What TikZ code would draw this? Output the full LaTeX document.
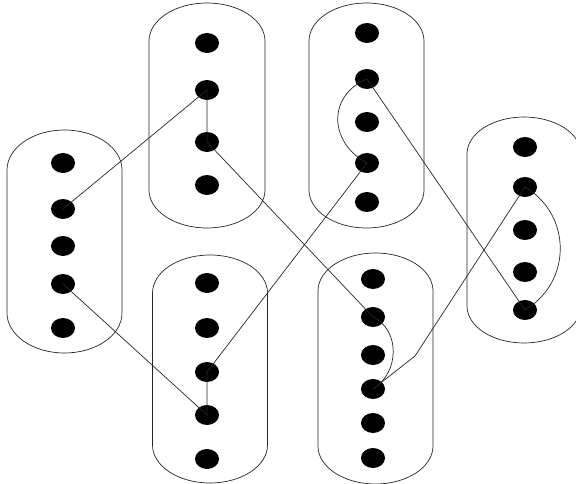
\documentclass[tikz,border=0pt]{standalone}
\usetikzlibrary{shapes.geometric}
\tikzset{
  dot/.style={ellipse, fill=black, draw=none, minimum width=24pt, minimum height=20pt, inner sep=0pt},
  link/.style={line width=0.7pt, draw=black!85},
  holder/.style={line width=0.7pt, draw=black!85}
}
% \holderbox{cx}{top}{bottom}{halfwidth}{cap}
\newcommand{\holderbox}[5]{%
  \draw[holder] ({#1-#4},{#2+#5})
    arc[start angle=180, end angle=360, x radius=#4, y radius=#5]
    -- ({#1+#4},{#3-#5})
    arc[start angle=0, end angle=180, x radius=#4, y radius=#5]
    -- cycle;}
\begin{document}
\begin{tikzpicture}[x=1pt,y=-1pt]
\useasboundingbox (0,0) rectangle (576,484);
\clip (0,0) rectangle (576,484);
% containers
\holderbox{64.5}{130}{353}{57.5}{40}
\holderbox{207}{3}{228}{58}{38}
\holderbox{366.5}{3}{228}{57.5}{38}
\holderbox{524}{117}{343}{57}{37}
\holderbox{210}{255}{483}{57.5}{38}
\holderbox{375.5}{253}{484}{57.5}{38}
% dots
\node[dot] (a1) at (63,163) {};
\node[dot] (a2) at (63,209) {};
\node[dot] (a3) at (63,246) {};
\node[dot] (a4) at (63,284) {};
\node[dot] (a5) at (63,328) {};
\node[dot] (b1) at (207,43) {};
\node[dot] (b2) at (207,90) {};
\node[dot] (b3) at (207,142) {};
\node[dot] (b4) at (207,185) {};
\node[dot] (c1) at (367,33) {};
\node[dot] (c2) at (367,79) {};
\node[dot] (c3) at (367,122) {};
\node[dot] (c4) at (367,163) {};
\node[dot] (c5) at (367,202) {};
\node[dot] (d1) at (525,147) {};
\node[dot] (d2) at (525,187) {};
\node[dot] (d3) at (525,230) {};
\node[dot] (d4) at (525,272) {};
\node[dot] (d5) at (525,310) {};
\node[dot] (e1) at (207,283) {};
\node[dot] (e2) at (207,328) {};
\node[dot] (e3) at (207,372) {};
\node[dot] (e4) at (207,415) {};
\node[dot] (e5) at (207,459) {};
\node[dot] (f1) at (373,279) {};
\node[dot] (f2) at (373,317) {};
\node[dot] (f3) at (373,355) {};
\node[dot] (f4) at (373,389) {};
\node[dot] (f5) at (373,423) {};
\node[dot] (f6) at (373,458) {};
\coordinate (k1) at (415,356);
% connectors
\draw[link] (a2.center) -- (b2.center) -- (b3.center) -- (f2.center);
\draw[link] (f2.center) .. controls (400,330) and (400,372) .. (f4.center);
\draw[link] (f4.center) -- (k1) -- (d2.center);
\draw[link] (d2.center) .. controls (572,215) and (572,282) .. (d5.center);
\draw[link] (d5.center) -- (c2.center);
\draw[link] (c2.center) .. controls (328,95) and (328,142) .. (c4.center);
\draw[link] (c4.center) -- (e3.center) -- (e4.center) -- (a4.center);
\end{tikzpicture}
\end{document}
